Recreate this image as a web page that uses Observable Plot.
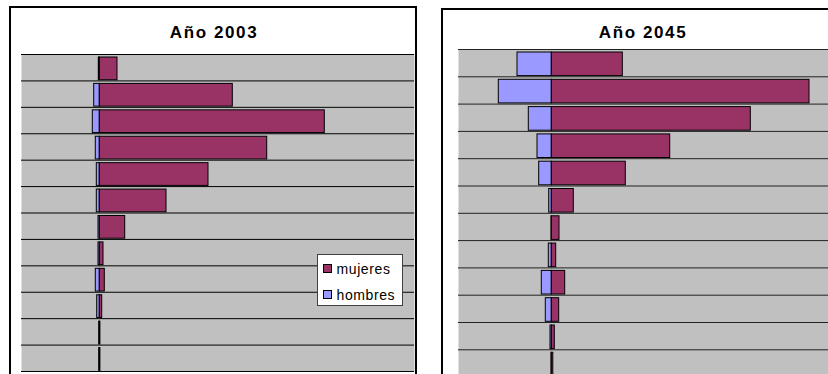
<!DOCTYPE html>
<html>
<head>
<meta charset="utf-8">
<script src="https://cdn.jsdelivr.net/npm/d3@7"></script>
<script src="https://cdn.jsdelivr.net/npm/@observablehq/plot@0.6"></script>
<style>
  html, body { margin: 0; padding: 0; background: #fff; }
  body { width: 828px; height: 374px; overflow: hidden; position: relative; font-family: "Liberation Sans", Arial, sans-serif; }
  .abs { position: absolute; }
  .panel { position: absolute; box-sizing: border-box; border: 2px solid #000; background: #fff; }
  .title { position: absolute; font-weight: bold; font-size: 17px; line-height: 17px; letter-spacing: 1.6px; text-align: center; color: #000; }
  .legend { position: absolute; box-sizing: border-box; border: 1px solid #404040; background: #fff; }
  .sw { position: absolute; box-sizing: border-box; width: 9px; height: 9px; border: 1px solid #000; }
  .lt { position: absolute; font-size: 14px; line-height: 14px; letter-spacing: 0.6px; color: #000; white-space: nowrap; }
  svg.plot { max-width: none !important; background: transparent; }
</style>
</head>
<body>
<script>
// Row groups (no labels shown in the chart), top to bottom
const grupos = ["g1","g2","g3","g4","g5","g6","g7","g8","g9","g10","g11","g12"];
const series = ["mujeres", "hombres"];
const titulos = ["Año 2003", "Año 2045"];

// Año 2003 (relative units)
const hombres2003 = [1.0, 5.6, 7.0, 4.0, 3.0, 3.0, 1.3, 1.3, 4.0, 2.6, 0.6, 0.6];
const mujeres2003 = [17.7, 133, 225, 167.4, 108.7, 66.7, 25.4, 3.7, 5.0, 2.4, 0.6, 0.6];

// Año 2045
const hombres2045 = [34.3, 53, 23, 14.3, 12.6, 2.6, 0.3, 3.0, 10.0, 6.0, 1.3, 0.3];
const mujeres2045 = [71, 257.7, 199, 118.4, 74, 22, 7.7, 4.4, 13.4, 7.4, 3.0, 1.5];

const colores = {mujeres: "#993366", hombres: "#9999FF"};

function buildRows(h, m) {
  const rows = [];
  grupos.forEach((g, i) => {
    rows.push({grupo: g, i, serie: "hombres", x1: -h[i], x2: 0});
    rows.push({grupo: g, i, serie: "mujeres", x1: 0, x2: m[i]});
  });
  return rows;
}

function panelPlot(h, m, opts) {
  const rows = buildRows(h, m);
  const bounds = d3.range(grupos.length + 1);
  return Plot.plot({
    width: opts.width,
    height: opts.height,
    marginLeft: opts.ml,
    marginRight: opts.mr,
    marginTop: opts.mt,
    marginBottom: opts.mb,
    style: {background: "transparent", overflow: "visible"},
    x: {domain: opts.xdomain, axis: null},
    y: {domain: [grupos.length, 0], axis: null},
    color: {domain: series, range: [colores.mujeres, colores.hombres]},
    marks: [
      Plot.frame({fill: "#C0C0C0", stroke: null}),
      Plot.ruleY(bounds, {y: d => d, stroke: opts.grid, strokeWidth: 1}),
      Plot.rectX(rows, {
        x1: "x1", x2: "x2",
        y1: d => d.i, y2: d => d.i + 1,
        fill: "serie",
        stroke: "#000", strokeWidth: 1,
        insetTop: opts.insetTop, insetBottom: opts.insetBottom
      })
    ]
  });
}

// Left panel
const p1 = document.createElement("div");
p1.className = "panel";
Object.assign(p1.style, {left: "9px", top: "6px", width: "408px", height: "420px"});
document.body.appendChild(p1);

const c1 = document.createElement("div");
c1.className = "abs";
Object.assign(c1.style, {left: "0px", top: "0px", width: "420px", height: "374px"});
c1.appendChild(panelPlot(hombres2003, mujeres2003, {
  width: 420, height: 374, ml: 21, mr: 6, mt: 54, mb: 3,
  xdomain: [-78.3, 314.7], grid: "#000", insetTop: 3, insetBottom: 0.7
}));
document.body.appendChild(c1);

// Right panel
const p2 = document.createElement("div");
p2.className = "panel";
Object.assign(p2.style, {left: "441px", top: "8px", width: "410px", height: "420px"});
document.body.appendChild(p2);

const c2 = document.createElement("div");
c2.className = "abs";
Object.assign(c2.style, {left: "420px", top: "0px", width: "420px", height: "380px"});
c2.appendChild(panelPlot(hombres2045, mujeres2045, {
  width: 420, height: 380, ml: 38, mr: 4, mt: 49, mb: 3.4,
  xdomain: [-93.3, 284.7], grid: "#222", insetTop: 3, insetBottom: 0.7
}));
document.body.appendChild(c2);

// Titles
function addTitle(text, cx, top) {
  const t = document.createElement("div");
  t.className = "title";
  t.textContent = text;
  Object.assign(t.style, {left: (cx - 100) + "px", top: top + "px", width: "200px"});
  document.body.appendChild(t);
}
addTitle(titulos[0], 214, 23.5);
addTitle(titulos[1], 643, 23.5);

// Legend (left panel)
const lg = document.createElement("div");
lg.className = "legend";
Object.assign(lg.style, {left: "316.5px", top: "254px", width: "86px", height: "52px"});
document.body.appendChild(lg);
const legY = [264, 290.3];
series.forEach((s, k) => {
  const sw = document.createElement("div");
  sw.className = "sw";
  Object.assign(sw.style, {left: "322.5px", top: legY[k] + "px", background: colores[s]});
  document.body.appendChild(sw);
  const tx = document.createElement("div");
  tx.className = "lt";
  tx.textContent = s;
  Object.assign(tx.style, {left: "336.5px", top: (legY[k] - 2.5) + "px"});
  document.body.appendChild(tx);
});
</script>
</body>
</html>
